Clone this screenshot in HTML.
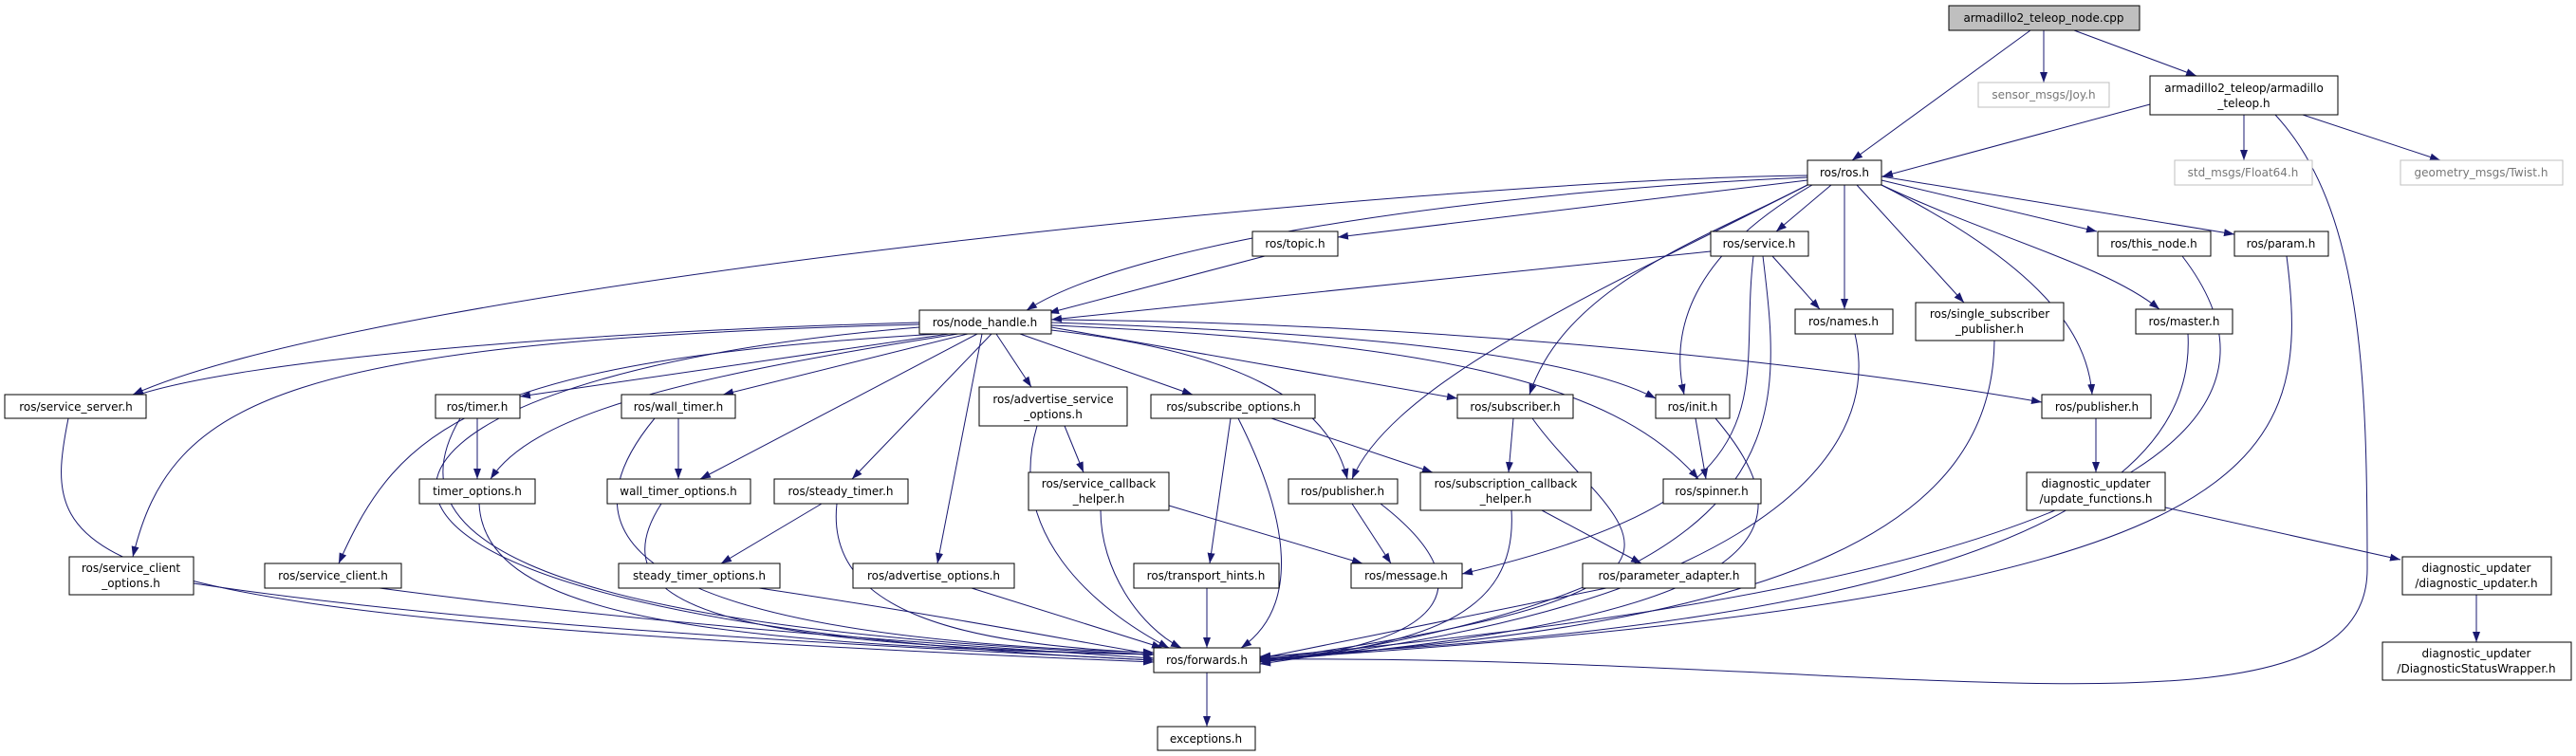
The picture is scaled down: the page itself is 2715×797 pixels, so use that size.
<!DOCTYPE html>
<html><head><meta charset="utf-8"><style>
html,body{margin:0;padding:0;background:#fff;}
svg{display:block;}
text{font-family:"DejaVu Sans","Liberation Sans",sans-serif;font-size:12px;fill:#000;}
.n{fill:#fff;stroke:#000;stroke-width:1;}
.g{fill:#fff;stroke:#bfbfbf;stroke-width:1;}
.e{fill:none;stroke:#191970;stroke-width:1;marker-end:url(#a);}
</style></head><body>
<svg width="2715" height="797" viewBox="0 0 2715 797" xmlns="http://www.w3.org/2000/svg">
<defs><marker id="a" markerUnits="userSpaceOnUse" markerWidth="12" markerHeight="10" refX="11" refY="4" orient="auto"><path d="M0,0 L11,4 L0,8 z" fill="#191970"/></marker></defs>
<g>
<path class="e" d="M2140 32 L1952 169"/>
<path class="e" d="M2154 32 L2154 87"/>
<path class="e" d="M2186 32 L2315 80"/>
<path class="e" d="M2266 110 L1984 186"/>
<path class="e" d="M2365 121 L2365 169"/>
<path class="e" d="M2427 121 L2572 169"/>
<path class="e" d="M2398 121 C2490 220 2495 400 2495 600 S2000 690 1328 695"/>
<path class="e" d="M1905 190 L1410 250"/>
<path class="e" d="M1930 195 L1872 244"/>
<path class="e" d="M1944 195 L1944 326"/>
<path class="e" d="M1957 195 L2070 319"/>
<path class="e" d="M1983 190 L2210 244"/>
<path class="e" d="M1983 186 L2355 247"/>
<path class="e" d="M1983 195 C2100 250 2220 280 2276 326"/>
<path class="e" d="M1905 187 C1600 200 1200 250 1082 327"/>
<path class="e" d="M1905 185 C1500 190 400 300 140 416"/>
<path class="e" d="M1905 195 C1800 250 1650 300 1612 416"/>
<path class="e" d="M1905 195 C1700 300 1470 400 1425 505"/>
<path class="e" d="M1910 195 C1780 270 1760 350 1775 416"/>
<path class="e" d="M1983 195 C2150 280 2200 350 2205 416"/>
<path class="e" d="M1333 270 L1105 330"/>
<path class="e" d="M1803 265 L1108 337"/>
<path class="e" d="M1868 270 L1918 326"/>
<path class="e" d="M1858 270 C1880 450 1900 620 1328 700"/>
<path class="e" d="M1848 270 C1830 420 1900 520 1541 605"/>
<path class="e" d="M1955 352 C1990 500 1800 650 1328 698"/>
<path class="e" d="M2102 359 C2100 550 1900 660 1328 694"/>
<path class="e" d="M2306 352 C2320 600 1800 670 1328 692"/>
<path class="e" d="M2300 270 C2400 400 2390 600 1328 693"/>
<path class="e" d="M2410 270 C2440 500 2380 630 1328 695"/>
<path class="e" d="M969 340 C600 350 250 380 140 418"/>
<path class="e" d="M969 342 C300 360 180 420 140 587"/>
<path class="e" d="M990 352 C500 380 420 450 357 594"/>
<path class="e" d="M1000 352 L548 418"/>
<path class="e" d="M1010 352 C700 400 560 440 517 505"/>
<path class="e" d="M1020 352 L762 416"/>
<path class="e" d="M1030 352 L738 505"/>
<path class="e" d="M1045 352 L898 505"/>
<path class="e" d="M1050 352 L1087 408"/>
<path class="e" d="M1035 352 L988 594"/>
<path class="e" d="M1075 352 L1257 416"/>
<path class="e" d="M1108 345 L1536 420"/>
<path class="e" d="M1108 348 C1300 370 1400 420 1420 505"/>
<path class="e" d="M1108 340 C1400 350 1650 370 1745 420"/>
<path class="e" d="M1108 343 C1500 360 1700 400 1790 505"/>
<path class="e" d="M1108 337 C1500 340 1900 380 2152 424"/>
<path class="e" d="M969 345 C300 400 200 650 1216 696"/>
<path class="e" d="M72 441 C40 600 60 650 1216 698"/>
<path class="e" d="M503 441 L503 505"/>
<path class="e" d="M485 441 C420 550 500 660 1216 690"/>
<path class="e" d="M715 441 L715 505"/>
<path class="e" d="M690 441 C600 550 620 670 1216 688"/>
<path class="e" d="M866 531 L760 594"/>
<path class="e" d="M882 531 C870 640 1000 680 1216 688"/>
<path class="e" d="M1122 449 L1142 498"/>
<path class="e" d="M1093 449 C1060 560 1150 640 1232 683"/>
<path class="e" d="M1297 441 L1275 594"/>
<path class="e" d="M1340 441 L1510 498"/>
<path class="e" d="M1305 441 C1360 550 1370 640 1308 683"/>
<path class="e" d="M1160 538 C1160 600 1200 660 1245 683"/>
<path class="e" d="M1232 533 L1436 594"/>
<path class="e" d="M505 531 C510 640 700 680 1216 690"/>
<path class="e" d="M697 531 C620 650 800 680 1216 690"/>
<path class="e" d="M204 615 C500 660 900 680 1216 696"/>
<path class="e" d="M400 620 C700 660 1000 680 1216 694"/>
<path class="e" d="M800 620 C1000 650 1100 670 1216 690"/>
<path class="e" d="M1024 620 L1225 683"/>
<path class="e" d="M1272 620 L1272 683"/>
<path class="e" d="M1595 441 L1590 498"/>
<path class="e" d="M1615 441 C1700 560 1880 620 1328 696"/>
<path class="e" d="M1787 441 L1798 505"/>
<path class="e" d="M1808 441 C1900 550 1900 650 1328 697"/>
<path class="e" d="M1425 531 L1466 594"/>
<path class="e" d="M1455 531 C1570 620 1520 680 1328 697"/>
<path class="e" d="M1593 538 C1600 650 1500 680 1328 697"/>
<path class="e" d="M1625 538 L1730 594"/>
<path class="e" d="M1693 620 L1328 694"/>
<path class="e" d="M2209 441 L2209 498"/>
<path class="e" d="M2282 535 L2530 590"/>
<path class="e" d="M2610 627 L2610 677"/>
<path class="e" d="M1272 709 L1272 766"/>
</g>
<g>
<rect x="2054" y="6" width="201" height="26" fill="#bfbfbf" stroke="#000"/><text x="2154" y="23" text-anchor="middle">armadillo2_teleop_node.cpp</text>
<rect class="g" x="2085" y="87" width="138" height="26"/><text x="2154" y="104" text-anchor="middle" style="fill:#777">sensor_msgs/Joy.h</text>
<rect class="n" x="2266" y="80" width="198" height="41"/><text x="2365" y="97" text-anchor="middle">armadillo2_teleop/armadillo</text><text x="2365" y="113" text-anchor="middle">_teleop.h</text>
<rect class="n" x="1905" y="169" width="78" height="26"/><text x="1944" y="186" text-anchor="middle">ros/ros.h</text>
<rect class="g" x="2292" y="169" width="145" height="26"/><text x="2364" y="186" text-anchor="middle" style="fill:#777">std_msgs/Float64.h</text>
<rect class="g" x="2530" y="169" width="171" height="26"/><text x="2615" y="186" text-anchor="middle" style="fill:#777">geometry_msgs/Twist.h</text>
<rect class="n" x="1320" y="244" width="90" height="26"/><text x="1365" y="261" text-anchor="middle">ros/topic.h</text>
<rect class="n" x="1803" y="244" width="103" height="26"/><text x="1854" y="261" text-anchor="middle">ros/service.h</text>
<rect class="n" x="2211" y="244" width="119" height="26"/><text x="2270" y="261" text-anchor="middle">ros/this_node.h</text>
<rect class="n" x="2355" y="244" width="99" height="26"/><text x="2404" y="261" text-anchor="middle">ros/param.h</text>
<rect class="n" x="1892" y="326" width="103" height="26"/><text x="1943" y="343" text-anchor="middle">ros/names.h</text>
<rect class="n" x="2019" y="319" width="156" height="40"/><text x="2097" y="335" text-anchor="middle">ros/single_subscriber</text><text x="2097" y="351" text-anchor="middle">_publisher.h</text>
<rect class="n" x="2251" y="326" width="102" height="26"/><text x="2302" y="343" text-anchor="middle">ros/master.h</text>
<rect class="n" x="969" y="327" width="139" height="25"/><text x="1038" y="344" text-anchor="middle">ros/node_handle.h</text>
<rect class="n" x="5" y="416" width="149" height="25"/><text x="80" y="433" text-anchor="middle">ros/service_server.h</text>
<rect class="n" x="459" y="416" width="89" height="25"/><text x="503" y="433" text-anchor="middle">ros/timer.h</text>
<rect class="n" x="655" y="416" width="120" height="25"/><text x="715" y="433" text-anchor="middle">ros/wall_timer.h</text>
<rect class="n" x="1032" y="408" width="156" height="41"/><text x="1110" y="425" text-anchor="middle">ros/advertise_service</text><text x="1110" y="441" text-anchor="middle">_options.h</text>
<rect class="n" x="1213" y="416" width="173" height="25"/><text x="1300" y="433" text-anchor="middle">ros/subscribe_options.h</text>
<rect class="n" x="1536" y="416" width="122" height="25"/><text x="1597" y="433" text-anchor="middle">ros/subscriber.h</text>
<rect class="n" x="1745" y="416" width="78" height="25"/><text x="1784" y="433" text-anchor="middle">ros/init.h</text>
<rect class="n" x="2152" y="416" width="115" height="25"/><text x="2210" y="433" text-anchor="middle">ros/publisher.h</text>
<rect class="n" x="442" y="505" width="122" height="26"/><text x="503" y="522" text-anchor="middle">timer_options.h</text>
<rect class="n" x="640" y="505" width="151" height="26"/><text x="715" y="522" text-anchor="middle">wall_timer_options.h</text>
<rect class="n" x="816" y="505" width="141" height="26"/><text x="886" y="522" text-anchor="middle">ros/steady_timer.h</text>
<rect class="n" x="1084" y="498" width="148" height="40"/><text x="1158" y="514" text-anchor="middle">ros/service_callback</text><text x="1158" y="530" text-anchor="middle">_helper.h</text>
<rect class="n" x="1358" y="505" width="115" height="26"/><text x="1415" y="522" text-anchor="middle">ros/publisher.h</text>
<rect class="n" x="1497" y="498" width="180" height="40"/><text x="1587" y="514" text-anchor="middle">ros/subscription_callback</text><text x="1587" y="530" text-anchor="middle">_helper.h</text>
<rect class="n" x="1753" y="505" width="103" height="26"/><text x="1804" y="522" text-anchor="middle">ros/spinner.h</text>
<rect class="n" x="2136" y="498" width="146" height="40"/><text x="2209" y="514" text-anchor="middle">diagnostic_updater</text><text x="2209" y="530" text-anchor="middle">/update_functions.h</text>
<rect class="n" x="73" y="587" width="131" height="40"/><text x="138" y="603" text-anchor="middle">ros/service_client</text><text x="138" y="619" text-anchor="middle">_options.h</text>
<rect class="n" x="279" y="594" width="144" height="26"/><text x="351" y="611" text-anchor="middle">ros/service_client.h</text>
<rect class="n" x="652" y="594" width="170" height="26"/><text x="737" y="611" text-anchor="middle">steady_timer_options.h</text>
<rect class="n" x="899" y="594" width="170" height="26"/><text x="984" y="611" text-anchor="middle">ros/advertise_options.h</text>
<rect class="n" x="1195" y="594" width="153" height="26"/><text x="1271" y="611" text-anchor="middle">ros/transport_hints.h</text>
<rect class="n" x="1424" y="594" width="117" height="26"/><text x="1482" y="611" text-anchor="middle">ros/message.h</text>
<rect class="n" x="1668" y="594" width="182" height="26"/><text x="1759" y="611" text-anchor="middle">ros/parameter_adapter.h</text>
<rect class="n" x="2532" y="587" width="157" height="40"/><text x="2610" y="603" text-anchor="middle">diagnostic_updater</text><text x="2610" y="619" text-anchor="middle">/diagnostic_updater.h</text>
<rect class="n" x="2511" y="677" width="199" height="40"/><text x="2610" y="693" text-anchor="middle">diagnostic_updater</text><text x="2610" y="709" text-anchor="middle">/DiagnosticStatusWrapper.h</text>
<rect class="n" x="1216" y="683" width="112" height="26"/><text x="1272" y="700" text-anchor="middle">ros/forwards.h</text>
<rect class="n" x="1220" y="766" width="103" height="25"/><text x="1271" y="783" text-anchor="middle">exceptions.h</text>
</g>
</svg>
</body></html>
